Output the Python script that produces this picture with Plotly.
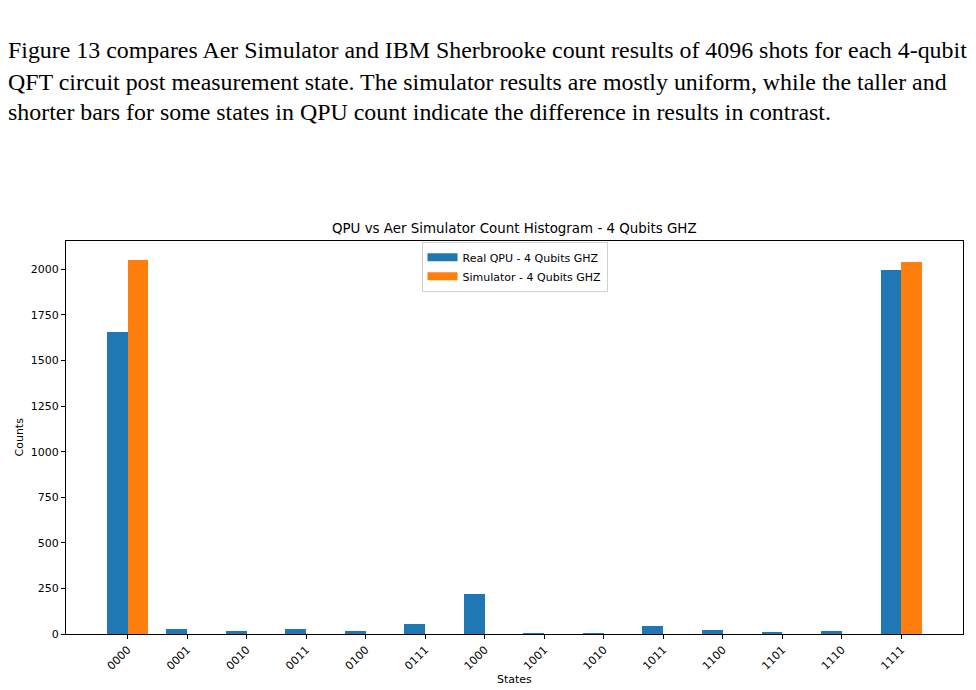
import plotly.graph_objects as go

states = ["0000", "0001", "0010", "0011", "0100", "0111", "1000",
          "1001", "1010", "1011", "1100", "1101", "1110", "1111"]
qpu_counts = [1655, 27, 14, 27, 18, 55, 219, 5, 5, 44, 22, 10, 17, 1995]
sim_counts = [2053, 0, 0, 0, 0, 0, 0, 0, 0, 0, 0, 0, 0, 2043]
y_ticks = [0, 250, 500, 750, 1000, 1250, 1500, 1750, 2000]
paragraph = [
    "Figure 13 compares Aer Simulator and IBM Sherbrooke count results of 4096 shots for each 4-qubit",
    "QFT circuit post measurement state. The simulator results are mostly uniform, while the taller and",
    "shorter bars for some states in QPU count indicate the difference in results in contrast.",
]
series_names = ["Real QPU - 4 Qubits GHZ", "Simulator - 4 Qubits GHZ"]
series_colors = ["#1f77b4", "#ff7f0e"]

W, H = 976, 690
L, R, T, B = 66, 13, 241, 56
pw, ph = W - L - R, H - T - B

bw = 0.35
idx = list(range(len(states)))

fig = go.Figure()
fig.add_trace(go.Bar(x=[i - bw / 2 for i in idx], y=qpu_counts, width=bw,
                     name=series_names[0], marker_color=series_colors[0],
                     marker_line_width=0, showlegend=False))
fig.add_trace(go.Bar(x=[i + bw / 2 for i in idx], y=sim_counts, width=bw,
                     name=series_names[1], marker_color=series_colors[1],
                     marker_line_width=0, showlegend=False))
# legend entries drawn as wide patches
for name, col in zip(series_names, series_colors):
    fig.add_trace(go.Scatter(x=[None], y=[None], mode="lines", name=name,
                             line=dict(color=col, width=8), hoverinfo="skip"))

ymax = max(max(qpu_counts), max(sim_counts)) * 1.05
xmin, xmax = -bw, len(states) - 1 + bw
pad = (xmax - xmin) * 0.05

def px_x(p):
    return (p - L) / pw

def px_y(p):
    return (H - B - p) / ph

annotations = []
for line, yy in zip(paragraph, [50, 82, 112]):
    annotations.append(dict(text=line, xref="paper", yref="paper",
                            x=px_x(6), y=px_y(yy), xanchor="left", yanchor="middle",
                            showarrow=False,
                            font=dict(family="Liberation Serif", size=23.9, color="#000")))
annotations.append(dict(text="QPU vs Aer Simulator Count Histogram - 4 Qubits GHZ",
                        xref="paper", yref="paper", x=0.5, y=px_y(229),
                        xanchor="center", yanchor="middle", showarrow=False,
                        font=dict(family="DejaVu Sans", size=13.4, color="#000")))
annotations.append(dict(text="States", xref="paper", yref="paper",
                        x=0.5, y=px_y(679), xanchor="center", yanchor="middle",
                        showarrow=False, font=dict(family="DejaVu Sans", size=11)))
annotations.append(dict(text="Counts", xref="paper", yref="paper", textangle=-90,
                        x=px_x(19), y=0.5, xanchor="center", yanchor="middle",
                        showarrow=False, font=dict(family="DejaVu Sans", size=11)))

fig.update_layout(
    width=W, height=H,
    margin=dict(l=L, r=R, t=T, b=B, autoexpand=False),
    paper_bgcolor="white", plot_bgcolor="white",
    font=dict(family="DejaVu Sans", size=11, color="#000"),
    showlegend=True,
    legend=dict(x=0.5, y=0.998, xanchor="center", yanchor="top",
                bgcolor="rgba(255,255,255,0.8)", bordercolor="#d0d0d0", borderwidth=1,
                font=dict(size=11), tracegroupgap=0),
    bargap=0,
    annotations=annotations,
)
fig.update_xaxes(range=[xmin - pad, xmax + pad], tickmode="array", tickvals=idx,
                 ticktext=states, tickangle=-45, ticks="outside", ticklen=4,
                 tickcolor="#000", showline=True, linecolor="#000", linewidth=1,
                 mirror=True, showgrid=False, zeroline=False, automargin=False,
                 tickfont=dict(size=11))
fig.update_yaxes(range=[0, ymax], tickmode="array", tickvals=y_ticks,
                 ticks="outside", ticklen=4, tickcolor="#000", showline=True,
                 linecolor="#000", linewidth=1, mirror=True, showgrid=False,
                 zeroline=False, automargin=False, tickfont=dict(size=11))

fig.write_html("out.html")
